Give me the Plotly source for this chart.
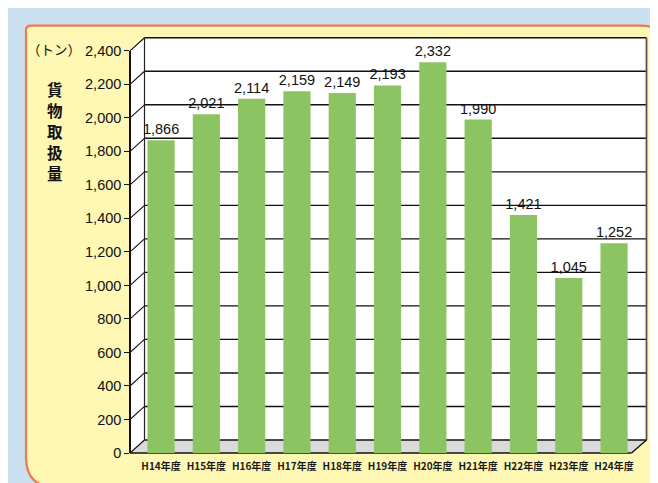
import plotly.graph_objects as go

categories = ["H14年度", "H15年度", "H16年度", "H17年度", "H18年度", "H19年度",
              "H20年度", "H21年度", "H22年度", "H23年度", "H24年度"]
values = [1866, 2021, 2114, 2159, 2149, 2193, 2332, 1990, 1421, 1045, 1252]
y_ticks = list(range(0, 2401, 200))
unit_label = "（トン）"
axis_title = "貨物取扱量"

W, H = 658, 483


def X(px):
    return px / W


def Y(py):
    return 1 - py / H


# geometry (pixels)
front0, front_top = 452.0, 36.0
scale = (front0 - front_top) / 2400.0
dx, dy = 14.5, 13.5
fx_left, fx_right = 122.0, 623.5
bx_left, bx_right = fx_left + dx, fx_right + dx + 0.5
back0 = front0 - dy
back_top = front_top - dy

shapes = []
# yellow rounded panel
pl, pt, pr, pb = 18, 10, 662, 488
r_tl, r_tr, r_bl, r_br = 5, 30, 32, 30
panel_path = (
    f"M {X(pl)},{Y(pb - r_bl)} L {X(pl)},{Y(pt + r_tl)} Q {X(pl)},{Y(pt)} {X(pl + r_tl)},{Y(pt)} "
    f"L {X(pr - r_tr)},{Y(pt)} Q {X(pr)},{Y(pt)} {X(pr)},{Y(pt + r_tr)} "
    f"L {X(pr)},{Y(pb - r_br)} Q {X(pr)},{Y(pb)} {X(pr - r_br)},{Y(pb)} "
    f"L {X(pl + r_bl)},{Y(pb)} Q {X(pl)},{Y(pb)} {X(pl)},{Y(pb - r_bl)} Z"
)
shapes.append(dict(type="path", xref="paper", yref="paper", path=panel_path,
                   fillcolor="#FFF7B4", line=dict(color="#EE7A50", width=2.2),
                   layer="below"))
# left side wall
shapes.append(dict(type="path", xref="paper", yref="paper",
                   path=(f"M {X(fx_left)},{Y(front0)} L {X(fx_left)},{Y(front_top)} "
                         f"L {X(bx_left)},{Y(back_top)} L {X(bx_left)},{Y(back0)} Z"),
                   fillcolor="white", line=dict(width=0), layer="below"))
# back wall
shapes.append(dict(type="rect", xref="paper", yref="paper",
                   x0=X(bx_left), x1=X(bx_right), y0=Y(back0), y1=Y(back_top),
                   fillcolor="white", line=dict(width=0), layer="below"))
# floor
shapes.append(dict(type="path", xref="paper", yref="paper",
                   path=(f"M {X(fx_left)},{Y(front0)} L {X(bx_left)},{Y(back0)} "
                         f"L {X(bx_right)},{Y(back0)} L {X(fx_right)},{Y(front0)} Z"),
                   fillcolor="#DADADA", line=dict(width=0), layer="below"))
# gridlines on back wall and diagonals on the side wall
for v in y_ticks:
    yb = back0 - v * scale
    yf = front0 - v * scale
    shapes.append(dict(type="line", xref="paper", yref="paper",
                       x0=X(bx_left), x1=X(bx_right), y0=Y(yb), y1=Y(yb),
                       line=dict(color="#111111", width=1.4), layer="below"))
    shapes.append(dict(type="line", xref="paper", yref="paper",
                       x0=X(fx_left), x1=X(bx_left), y0=Y(yf), y1=Y(yb),
                       line=dict(color="#111111", width=1.1), layer="below"))
# back wall left edge
shapes.append(dict(type="line", xref="paper", yref="paper",
                   x0=X(bx_left), x1=X(bx_left), y0=Y(back0), y1=Y(back_top),
                   line=dict(color="#222222", width=1.2), layer="below"))
# back wall right edge
shapes.append(dict(type="line", xref="paper", yref="paper",
                   x0=X(bx_right), x1=X(bx_right), y0=Y(back0), y1=Y(back_top),
                   line=dict(color="#555555", width=1.8), layer="below"))
# floor front edge and right diagonal
shapes.append(dict(type="line", xref="paper", yref="paper",
                   x0=X(fx_left), x1=X(fx_right), y0=Y(front0), y1=Y(front0),
                   line=dict(color="#111111", width=1.6), layer="below"))
shapes.append(dict(type="line", xref="paper", yref="paper",
                   x0=X(fx_right), x1=X(bx_right), y0=Y(front0), y1=Y(back0),
                   line=dict(color="#111111", width=1.4), layer="below"))

fig = go.Figure()
fig.add_trace(go.Bar(
    x=categories, y=values,
    marker=dict(color="#8DC462", line=dict(width=0)),
    text=[f"{v:,}" for v in values], textposition="outside",
    constraintext="none",
    textfont=dict(family="Liberation Sans, Arial, sans-serif", size=14.5, color="#111111"),
    cliponaxis=False, hoverinfo="x+y",
))

annotations = [
    dict(xref="paper", yref="paper", x=X(46), y=Y(34), text=unit_label,
         showarrow=False, xanchor="center", yanchor="middle",
         font=dict(family="Noto Sans CJK JP", size=13.5, color="#111111")),
]
title_y = [76, 97.5, 119, 140.5, 162]
for ch, py in zip(axis_title, title_y):
    annotations.append(dict(xref="paper", yref="paper", x=X(47), y=Y(py), text=ch,
                            showarrow=False, xanchor="center", yanchor="middle",
                            font=dict(family="Noto Sans CJK JP", size=15.5,
                                      color="#111111", weight="bold")))

fig.update_layout(
    width=W, height=H,
    margin=dict(l=0, r=0, t=0, b=0),
    paper_bgcolor="#CADFF0",
    plot_bgcolor="rgba(0,0,0,0)",
    showlegend=False,
    bargap=0.40,
    shapes=shapes,
    xaxis=dict(domain=[X(130.4), X(628.7)], showgrid=False, zeroline=False,
               showline=False, ticks="outside", ticklen=4, tickcolor="rgba(0,0,0,0)",
               tickfont=dict(family="Noto Sans CJK JP", size=10, color="#1a1a1a",
                             weight="bold"),
               fixedrange=True),
    yaxis=dict(domain=[Y(front0), Y(front_top)], range=[0, 2400],
               anchor="free", position=X(fx_left),
               tickvals=y_ticks, ticktext=[f"{v:,}" for v in y_ticks],
               showgrid=False, zeroline=False,
               showline=True, linecolor="#111111", linewidth=1.5,
               ticks="outside", ticklen=5, tickcolor="#111111", tickwidth=1.2,
               tickfont=dict(family="Liberation Sans, Arial, sans-serif", size=14.5, color="#111111"),
               fixedrange=True),
    annotations=annotations,
)

fig.write_html("out.html")
